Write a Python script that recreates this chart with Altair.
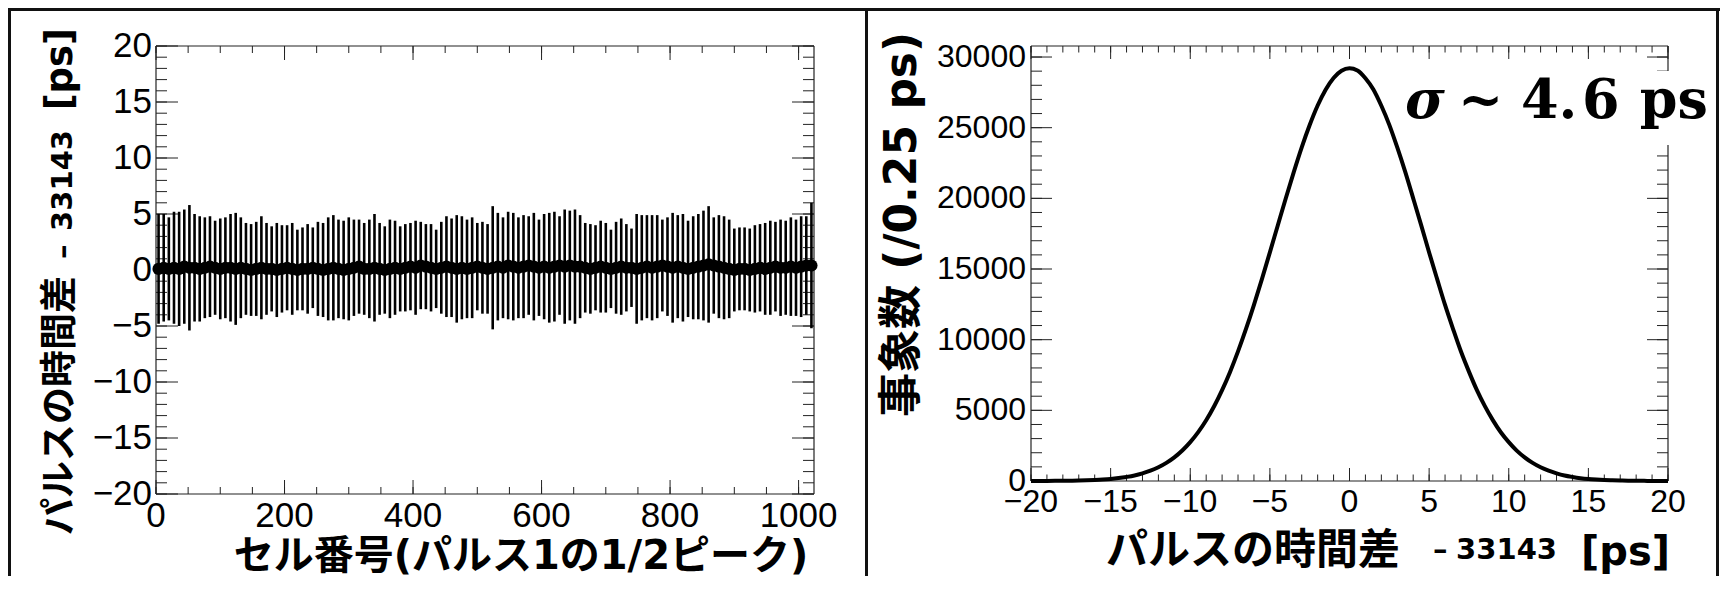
import altair as alt
import pandas as pd

# ---------------- data ----------------
# left panel: mean time difference and its spread per 8-cell bin (128 bins over 1024 cells)
cell_mean = [
    0.1, 0.2, 0.1, 0.2, 0.1, 0.3, 0.2, 0.2, 0.1, 0.2, 0.3, 0.2, 0.1, 0.2, 0.2, 0.1,
    0.2, 0.1, 0.0, 0.1, 0.2, 0.1, 0.1, 0.0, 0.1, 0.2, 0.1, 0.0, 0.1, 0.1, 0.2, 0.1,
    0.0, 0.1, 0.2, 0.1, 0.0, 0.1, 0.2, 0.3, 0.1, 0.1, 0.2, 0.1, 0.0, 0.1, 0.2, 0.1,
    0.2, 0.3, 0.2, 0.4, 0.3, 0.2, 0.1, 0.2, 0.3, 0.2, 0.1, 0.2, 0.1, 0.2, 0.3, 0.2,
    0.1, 0.2, 0.3, 0.2, 0.4, 0.3, 0.2, 0.3, 0.4, 0.3, 0.2, 0.3, 0.2, 0.3, 0.4, 0.3,
    0.4, 0.3, 0.3, 0.2, 0.1, 0.2, 0.3, 0.2, 0.1, 0.2, 0.3, 0.2, 0.2, 0.1, 0.2, 0.3,
    0.2, 0.3, 0.4, 0.3, 0.2, 0.3, 0.2, 0.1, 0.2, 0.3, 0.4, 0.5, 0.4, 0.3, 0.2, 0.1,
    0.0, 0.1, 0.1, 0.0, 0.1, 0.2, 0.1, 0.2, 0.3, 0.2, 0.2, 0.3, 0.2, 0.3, 0.4, 0.4,
]
cell_err = [
    4.9, 4.8, 4.6, 5.0, 5.1, 5.1, 5.6, 4.8, 4.7, 4.5, 4.5, 4.2, 4.5, 4.5, 4.8, 5.0,
    4.5, 4.1, 4.1, 4.2, 4.6, 4.1, 3.8, 4.2, 3.9, 3.8, 4.1, 3.6, 3.7, 4.0, 3.6, 4.2,
    4.2, 4.6, 4.7, 4.4, 4.4, 4.6, 4.3, 4.2, 4.1, 4.4, 4.8, 4.1, 3.9, 4.4, 4.2, 3.8,
    3.9, 3.9, 4.2, 3.9, 3.8, 3.9, 3.5, 4.1, 4.5, 4.4, 4.8, 4.6, 4.4, 4.5, 3.9, 4.1,
    4.0, 5.5, 4.8, 4.5, 4.8, 4.8, 4.5, 4.6, 4.4, 4.8, 4.3, 4.7, 4.9, 4.9, 4.4, 5.1,
    4.9, 5.1, 4.6, 4.0, 4.0, 3.8, 4.1, 4.0, 3.5, 4.1, 4.3, 3.9, 3.5, 4.9, 4.7, 4.6,
    4.7, 4.6, 4.1, 4.4, 4.9, 4.6, 4.8, 4.3, 4.6, 4.7, 4.9, 5.2, 4.3, 4.6, 4.6, 4.4,
    3.7, 3.7, 3.7, 3.7, 3.9, 3.9, 4.1, 4.2, 4.0, 4.3, 4.2, 4.4, 4.3, 4.5, 4.4, 5.6,
]
CELL_BIN = 8
cell_center = [CELL_BIN * i + CELL_BIN / 2 for i in range(len(cell_mean))]

# right panel: histogram of the time difference (counts / 0.25 ps), sampled every 0.5 ps
hist_t = [v / 2 for v in range(-40, 41)]
hist_n = [
    2, 4, 6, 9, 14, 20, 30, 48, 70, 100, 142, 205, 288, 392, 540, 730, 975, 1285, 1675, 2160,
    2750, 3460, 4300, 5290, 6430, 7720, 9170, 10760, 12470, 14290, 16180, 18100, 20010, 21860,
    23610, 25190, 26570, 27690, 28520, 29030,
    29200,
    29050, 28500, 27700, 26550, 25200, 23600, 21870, 20000, 18110, 16170, 14300, 12460, 10770,
    9160, 7740, 6430, 5300, 4310, 3450, 2750, 2150, 1670, 1280, 970, 730, 540, 390, 285, 200,
    140, 100, 70, 47, 32, 21, 14, 9, 6, 4, 2,
]

# axis ticks / labels
left_x_major = [0, 200, 400, 600, 800, 1000]
left_x_minor = list(range(0, 1001, 50))
left_y_major = [-20, -15, -10, -5, 0, 5, 10, 15, 20]
left_y_minor = list(range(-20, 21))
right_x_major = [-20, -15, -10, -5, 0, 5, 10, 15, 20]
right_x_minor = list(range(-20, 21))
right_y_major = [0, 5000, 10000, 15000, 20000, 25000, 30000]
right_y_minor = list(range(0, 30001, 1000))

left_xtitle = "セル番号(パルス1の1/2ピーク)"
ytitle_jp = "パルスの時間差"
ytitle_dash = "–"
ytitle_off = "33143"
ytitle_unit = "[ps]"
right_ytitle = "事象数 (/0.25 ps)"

# ---------------- layout ----------------
W, H = 1712, 568
LX0, LX1, LY0, LY1 = 148, 806, 38, 486
RX0, RX1, RY0, RY1 = 1023, 1660, 38, 473
JP = "DejaVu Sans, Noto Sans CJK JP"
NUM = "Liberation Sans"
SERIF = "DejaVu Serif"


def sc(domain, rng):
    return alt.Scale(domain=domain, range=rng, nice=False, zero=False)


xL = sc([0, 1024], [LX0, LX1])
yL = sc([-20, 20], [LY1, LY0])
xR = sc([-20, 20], [RX0, RX1])
yR = sc([0, 30780], [RY1, RY0])

one = pd.DataFrame({"k": [0]})


def vline(x, y1, y2, w=1.2, c="#222"):
    return alt.Chart(one).mark_rule(color=c, strokeWidth=w).encode(
        x=alt.value(x), y=alt.value(y1), y2=alt.value(y2))


def hline(y, x1, x2, w=1.2, c="#222"):
    return alt.Chart(one).mark_rule(color=c, strokeWidth=w).encode(
        y=alt.value(y), x=alt.value(x1), x2=alt.value(x2))


def xticks(vals, scale, y_edge, length):
    return alt.Chart(pd.DataFrame({"v": vals})).mark_rule(color="#222", strokeWidth=1).encode(
        x=alt.X("v:Q", scale=scale, axis=None),
        y=alt.value(y_edge), y2=alt.value(y_edge + length))


def yticks(vals, scale, x_edge, length):
    return alt.Chart(pd.DataFrame({"v": vals})).mark_rule(color="#222", strokeWidth=1).encode(
        y=alt.Y("v:Q", scale=scale, axis=None),
        x=alt.value(x_edge), x2=alt.value(x_edge + length))


def lab(v):
    return str(v).replace("-", "\u2212")


def xlabels(vals, scale, y, size):
    df = pd.DataFrame({"v": vals, "s": [lab(v) for v in vals]})
    return alt.Chart(df).mark_text(font=NUM, fontSize=size, align="center", baseline="top",
                                   color="black").encode(
        x=alt.X("v:Q", scale=scale, axis=None), y=alt.value(y), text="s:N")


def ylabels(vals, scale, x, size):
    df = pd.DataFrame({"v": vals, "s": [lab(v) for v in vals]})
    return alt.Chart(df).mark_text(font=NUM, fontSize=size, align="right", baseline="middle",
                                   color="black").encode(
        y=alt.Y("v:Q", scale=scale, axis=None), x=alt.value(x), text="s:N")


def text(t, x, y, size, font=JP, align="left", angle=0, style="normal", baseline="alphabetic"):
    return alt.Chart(pd.DataFrame({"t": [t]})).mark_text(
        font=font, fontSize=size, fontWeight="bold", fontStyle=style, align=align,
        baseline=baseline, angle=angle, color="black").encode(
        text="t:N", x=alt.value(x), y=alt.value(y))


layers = []

# outer panel frames
layers += [
    hline(1.5, 0, W, 3, "#111"),
    vline(1.5, 0, H, 3, "#111"),
    vline(858.5, 0, H, 3, "#111"),
    vline(1709.5, 0, H, 3, "#111"),
]

# ----- left panel -----
layers += [
    xticks(left_x_minor, xL, LY1, -7), xticks(left_x_major, xL, LY1, -14),
    xticks(left_x_minor, xL, LY0, 7), xticks(left_x_major, xL, LY0, 14),
    yticks(left_y_minor, yL, LX0, 11), yticks(left_y_major, yL, LX0, 22),
    yticks(left_y_minor, yL, LX1, -11), yticks(left_y_major, yL, LX1, -22),
    hline(LY0, LX0, LX1), hline(LY1, LX0, LX1), vline(LX0, LY0, LY1), vline(LX1, LY0, LY1),
]
cells = pd.DataFrame({"cell": cell_center, "mean": cell_mean, "err": cell_err})
cells["lo"] = cells["mean"] - cells["err"]
cells["hi"] = cells["mean"] + cells["err"]
layers.append(alt.Chart(cells).mark_rule(color="black", strokeWidth=2.6).encode(
    x=alt.X("cell:Q", scale=xL, axis=None),
    y=alt.Y("lo:Q", scale=yL, axis=None), y2="hi:Q"))
layers.append(alt.Chart(cells).mark_circle(color="black", size=150, opacity=1).encode(
    x=alt.X("cell:Q", scale=xL, axis=None),
    y=alt.Y("mean:Q", scale=yL, axis=None)))
layers += [
    xlabels(left_x_major, xL, LY1 + 5, 35),
    ylabels(left_y_major, yL, LX0 - 4, 35),
    text(left_xtitle, 513, 561, 40, align="center"),
    text(ytitle_jp, 64, 527, 37, angle=270),
    text(ytitle_dash, 64, 251, 29, angle=270),
    text(ytitle_off, 64, 122, 29, align="right", angle=270),
    text(ytitle_unit, 64, 20, 37, align="right", angle=270),
]

# ----- right panel -----
layers += [
    xticks(right_x_minor, xR, RY1, -6.5), xticks(right_x_major, xR, RY1, -13),
    xticks(right_x_minor, xR, RY0, 6.5), xticks(right_x_major, xR, RY0, 13),
    yticks(right_y_minor, yR, RX0, 11), yticks(right_y_major, yR, RX0, 21),
    yticks(right_y_minor, yR, RX1, -11), yticks(right_y_major, yR, RX1, -21),
    hline(RY0, RX0, RX1), hline(RY1, RX0, RX1), vline(RX0, RY0, RY1), vline(RX1, RY0, RY1),
]
hist = pd.DataFrame({"t": hist_t, "n": hist_n})
layers.append(alt.Chart(hist).mark_line(color="black", strokeWidth=4, interpolate="monotone").encode(
    x=alt.X("t:Q", scale=xR, axis=None),
    y=alt.Y("n:Q", scale=yR, axis=None)))
# white box behind the sigma annotation
layers.append(alt.Chart(one).mark_rect(color="white", opacity=1).encode(
    x=alt.value(1396), x2=alt.value(1700), y=alt.value(63), y2=alt.value(137)))
layers += [
    text("σ", 1397, 110, 54, font=SERIF, style="italic"),
    text("~", 1450, 110, 54, font=SERIF),
    text("4.", 1513, 110, 54, font=SERIF),
    text("6", 1574, 110, 54, font=SERIF),
    text("ps", 1700, 110, 54, font=SERIF, align="right"),
    xlabels(right_x_major, xR, RY1 + 6, 32),
    ylabels(right_y_major, yR, RX0 - 5, 32),
    text(ytitle_jp, 1392, 556, 42, align="right"),
    text(ytitle_dash, 1425, 551, 29),
    text(ytitle_off, 1549, 551, 29, align="right"),
    text(ytitle_unit, 1662, 557, 40, align="right"),
    text(right_ytitle, 908, 409, 44, angle=270),
]

chart = alt.layer(*layers).resolve_scale(x="independent", y="independent").properties(
    width=W, height=H, padding=0,
    autosize=alt.AutoSizeParams(type="none"),
    background="white",
).configure_view(stroke=None)

chart.save("out.html", embed_options={"renderer": "svg", "actions": False})
